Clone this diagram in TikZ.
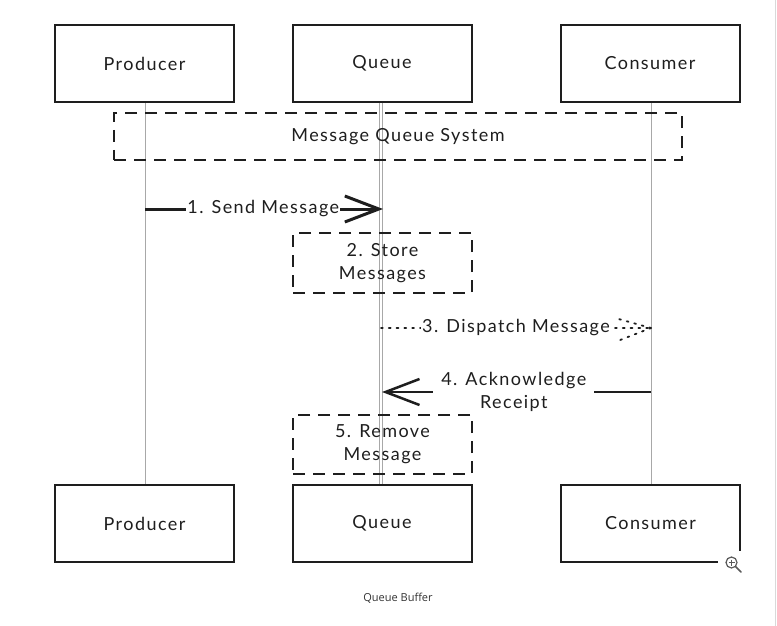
\documentclass[tikz,border=0pt]{standalone}
\usepackage{fontspec}
\setmainfont{Lato}[LetterSpace=8]
\newfontfamily\capfont{Open Sans}
\usetikzlibrary{arrows.meta}
\definecolor{ink}{HTML}{1E1E1E}
\definecolor{life}{HTML}{A8A8A8}
\tikzset{
  actor/.style={draw=ink,line width=2pt,fill=white,minimum width=179pt,minimum height=77pt,inner sep=0pt,font=\fontsize{18}{20}\selectfont,text=ink},
  dbox/.style={draw=ink,line width=2.4pt,dash pattern=on 12pt off 8pt,inner sep=0pt,align=center,font=\fontsize{18}{23}\selectfont,text=ink},
  lifeline/.style={draw=life,line width=0.8pt},
  lbl/.style={fill=white,inner sep=1pt,align=center,font=\fontsize{18}{23}\selectfont,text=ink},
  sendarrow/.style={draw=ink,line width=3pt,-{Straight Barb[length=34pt,width=26pt,line width=3pt]}},
  ackarrow/.style={draw=ink,line width=2.5pt,-{Straight Barb[length=34pt,width=26pt,line width=2.5pt]}},
  dotarrow/.style={draw=ink,line width=1.8pt,dash pattern=on 1.8pt off 6pt,line cap=round},
}
\begin{document}
\begin{tikzpicture}[x=1pt,y=-1pt]
\useasboundingbox[fill=white] (0,0) rectangle (777,626);
% lifelines
\coordinate (pT) at (145,102); \coordinate (pB) at (145,485);
\coordinate (qT) at (381,102); \coordinate (qB) at (381,485);
\coordinate (cT) at (651,102); \coordinate (cB) at (651,485);
\draw[lifeline] (pT) -- (pB);
\draw[lifeline] ([xshift=-1.5pt]qT) -- ([xshift=-1.5pt]qB);
\draw[lifeline] ([xshift=1.5pt]qT) -- ([xshift=1.5pt]qB);
\draw[lifeline] (cT) -- (cB);
% actors
\node[actor] (prodT) at (144.5,63.5) {Producer};
\node[actor] (queueT) at (382,63.5) {Queue};
\node[actor] (consT) at (650,63.5) {Consumer};
\node[actor] (prodB) at (144.5,523.5) {Producer};
\node[actor] (queueB) at (382,523.5) {Queue};
\node[actor] (consB) at (650.5,523.5) {Consumer};
% system box
\node[dbox,minimum width=568pt,minimum height=47pt] (sys) at (398,136.5) {Message Queue System};
% messages
\coordinate (m1a) at (145,209); \coordinate (m1b) at (383,209);
\draw[sendarrow] (m1a) -- node[lbl,pos=0.497] (l1) {1. Send Message} (m1b);
\node[dbox,minimum width=179pt,minimum height=60pt] (store) at (382.5,263) {2. Store\\Messages};
\coordinate (m3a) at (381,328); \coordinate (m3b) at (651,328);
\draw[dotarrow] (m3a) -- node[lbl,pos=0.5] (l3) {3. Dispatch Message} (m3b);
\draw[dotarrow] (m3b) -- ++(-36,-10);
\draw[dotarrow] (m3b) -- ++(-36,14);
\coordinate (m4a) at (651,392); \coordinate (m4b) at (382,392);
\draw[ackarrow] (m4a) -- node[lbl,pos=0.51,inner xsep=8pt] (l4) {4. Acknowledge\\Receipt} (m4b);
\node[dbox,minimum width=179pt,minimum height=59pt] (remove) at (382.5,444.5) {5. Remove\\Message};
% zoom icon overlay
\fill[white] (718,551) rectangle (746,578);
\draw[draw=black!65,line width=1.2pt] (731.5,562.5) circle (5.5pt);
\draw[draw=black!65,line width=1.6pt,line cap=round] (735.5,566.5) -- (741,572);
\draw[draw=black!65,line width=1pt] (728.5,562.5) -- (734.5,562.5) (731.5,559.5) -- (731.5,565.5);
% right border
\draw[draw=black!15,line width=1pt] (775.5,0) -- (775.5,626);
% caption
\node[font=\capfont\fontsize{11}{13}\selectfont,text=black!80] (cap) at (398,598) {Queue Buffer};
\end{tikzpicture}
\end{document}
